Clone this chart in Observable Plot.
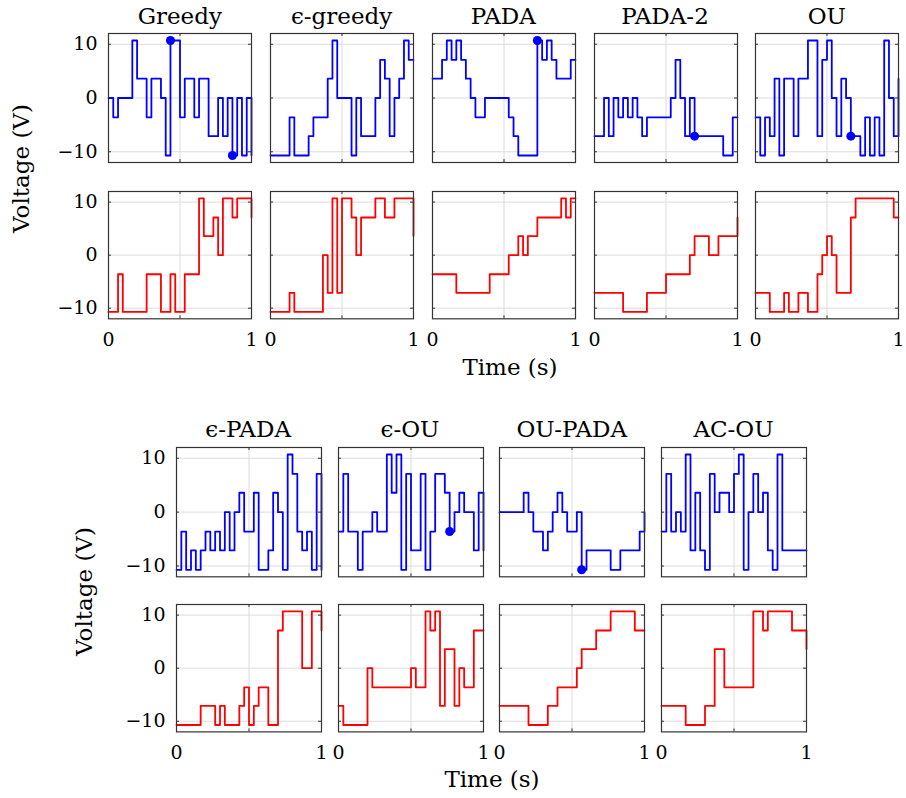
<!DOCTYPE html>
<html><head><meta charset="utf-8">
<script src="https://cdn.jsdelivr.net/npm/d3@7"></script>
<script src="https://cdn.jsdelivr.net/npm/@observablehq/plot@0.6"></script>
<style>
body{margin:0;background:#fff;}
#fig{position:relative;width:906px;height:798px;overflow:hidden;background:#fff;}
</style></head><body><div id="fig"></div>
<script>
// sample times (30 steps of 1/30 s; final point closes the stairs)
const time = [0,0.0333,0.0667,0.1,0.1333,0.1667,0.2,0.2333,0.2667,0.3,0.3333,0.3667,0.4,0.4333,0.4667,0.5,0.5333,0.5667,0.6,0.6333,0.6667,0.7,0.7333,0.7667,0.8,0.8333,0.8667,0.9,0.9333,0.9667,1];

const titles = ["Greedy","\u03F5-greedy","PADA","PADA-2","OU","\u03F5-PADA","\u03F5-OU","OU-PADA","AC-OU"];
const yTicks = [-10, 0, 10];
const xTicks = [0, 1];
const xGrid = [0.5];

const greedyBlue = [0,-3.6,0,0,0,10.7,3.6,3.6,-3.6,3.6,3.6,0,-10.7,10.7,10.7,-3.6,3.6,3.6,-3.6,3.6,3.6,-7.1,-7.1,0,-7.1,0,-10.7,0,-10.7,0,-10.7];
const greedyRed = [-10.7,-10.7,-3.6,-10.7,-10.7,-10.7,-10.7,-10.7,-3.6,-3.6,-3.6,-10.7,-10.7,-3.6,-10.7,-10.7,-3.6,-3.6,-3.6,10.7,3.6,3.6,7.1,0,10.7,10.7,7.1,10.7,10.7,10.7,7.1];
const greedyDotT = [0.4333, 0.8667];
const greedyDotV = [10.7, -10.7];

const epsGreedyBlue = [-10.7,-10.7,-10.7,-10.7,-3.6,-10.7,-10.7,-10.7,-7.1,-3.6,-3.6,-3.6,3.6,10.7,0,0,0,-10.7,0,-7.1,-7.1,-7.1,0,7.1,3.6,-7.1,0,3.6,10.7,7.1,7.1];
const epsGreedyRed = [-10.7,-10.7,-10.7,-10.7,-7.1,-10.7,-10.7,-10.7,-10.7,-10.7,-10.7,0,-7.1,10.7,-7.1,10.7,10.7,7.1,0,7.1,7.1,7.1,10.7,10.7,7.1,7.1,10.7,10.7,10.7,10.7,3.6];
const epsGreedyDotT = [];
const epsGreedyDotV = [];

const padaBlue = [3.6,3.6,7.1,10.7,7.1,10.7,7.1,3.6,0,-3.6,-3.6,0,0,0,0,0,-3.6,-7.1,-10.7,-10.7,-10.7,-10.7,10.7,7.1,10.7,7.1,3.6,3.6,3.6,7.1,7.1];
const padaRed = [-3.6,-3.6,-3.6,-3.6,-3.6,-7.1,-7.1,-7.1,-7.1,-7.1,-7.1,-7.1,-3.6,-3.6,-3.6,-3.6,0,0,3.6,0,3.6,3.6,7.1,7.1,7.1,7.1,7.1,10.7,7.1,10.7,10.7];
const padaDotT = [0.7333];
const padaDotV = [10.7];

const pada2Blue = [-7.1,-7.1,0,-7.1,0,-3.6,0,-3.6,0,-3.6,-7.1,-3.6,-3.6,-3.6,-3.6,-3.6,0,7.1,0,-7.1,0,-7.1,-7.1,-7.1,-7.1,-7.1,-7.1,-10.7,-10.7,-3.6,-3.6];
const pada2Red = [-7.1,-7.1,-7.1,-7.1,-7.1,-7.1,-10.7,-10.7,-10.7,-10.7,-10.7,-7.1,-7.1,-7.1,-7.1,-3.6,-3.6,-3.6,-3.6,-3.6,0,3.6,3.6,3.6,0,0,3.6,3.6,3.6,3.6,7.1];
const pada2DotT = [0.7];
const pada2DotV = [-7.1];

const ouBlue = [-3.6,-10.7,-3.6,-7.1,3.6,-10.7,3.6,3.6,-7.1,3.6,3.6,10.7,10.7,-7.1,7.1,10.7,0,-7.1,3.6,0,-7.1,-7.1,-10.7,-3.6,-10.7,-3.6,-10.7,10.7,0,-7.1,3.6];
const ouRed = [-7.1,-7.1,-7.1,-10.7,-10.7,-10.7,-7.1,-10.7,-10.7,-7.1,-7.1,-10.7,-10.7,-3.6,0,3.6,0,-7.1,-7.1,-7.1,7.1,10.7,10.7,10.7,10.7,10.7,10.7,10.7,10.7,7.1,7.1];
const ouDotT = [0.6667];
const ouDotV = [-7.1];

const epsPadaBlue = [-10.7,-3.6,-10.7,-7.1,-10.7,-7.1,-3.6,-7.1,-3.6,-7.1,0,-7.1,0,3.6,-3.6,-3.6,3.6,-10.7,-10.7,-7.1,3.6,0,-10.7,10.7,7.1,-3.6,-7.1,-3.6,-10.7,7.1,-10.7];
const epsPadaRed = [-10.7,-10.7,-10.7,-10.7,-10.7,-7.1,-7.1,-7.1,-10.7,-7.1,-10.7,-10.7,-10.7,-7.1,-3.6,-10.7,-7.1,-3.6,-3.6,-10.7,-10.7,7.1,10.7,10.7,10.7,10.7,0,0,10.7,10.7,7.1];
const epsPadaDotT = [];
const epsPadaDotV = [];

const epsOuBlue = [-3.6,7.1,-3.6,-3.6,-10.7,-3.6,-3.6,0,-3.6,-3.6,10.7,3.6,10.7,-10.7,7.1,-7.1,-7.1,7.1,-10.7,-3.6,7.1,7.1,3.6,-3.6,0,3.6,0,0,-7.1,3.6,-7.1];
const epsOuRed = [-7.1,-10.7,-10.7,-10.7,-10.7,-10.7,0,-3.6,-3.6,-3.6,-3.6,-3.6,-3.6,-3.6,-3.6,0,-3.6,-3.6,10.7,7.1,10.7,-7.1,3.6,3.6,-7.1,0,-3.6,-3.6,7.1,7.1,7.1];
const epsOuDotT = [0.7667];
const epsOuDotV = [-3.6];

const ouPadaBlue = [0,0,0,0,0,3.6,0,-3.6,-3.6,-7.1,-3.6,0,3.6,0,-3.6,-3.6,0,-10.7,-7.1,-7.1,-7.1,-7.1,-7.1,-10.7,-10.7,-7.1,-7.1,-7.1,-7.1,-3.6,0];
const ouPadaRed = [-7.1,-7.1,-7.1,-7.1,-7.1,-7.1,-10.7,-10.7,-10.7,-10.7,-7.1,-7.1,-3.6,-3.6,-3.6,-3.6,0,3.6,3.6,3.6,7.1,7.1,7.1,10.7,10.7,10.7,10.7,10.7,7.1,7.1,7.1];
const ouPadaDotT = [0.5667];
const ouPadaDotV = [-10.7];

const acOuBlue = [-3.6,7.1,-3.6,0,-3.6,10.7,-7.1,3.6,-7.1,-10.7,7.1,0,3.6,3.6,0,7.1,10.7,-10.7,0,7.1,0,3.6,-7.1,-10.7,10.7,-7.1,-7.1,-7.1,-7.1,-7.1,-7.1];
const acOuRed = [-7.1,-7.1,-7.1,-7.1,-7.1,-10.7,-10.7,-10.7,-10.7,-7.1,-7.1,3.6,3.6,-3.6,-3.6,-3.6,-3.6,-3.6,-3.6,10.7,10.7,7.1,10.7,10.7,10.7,10.7,10.7,7.1,7.1,7.1,3.6];
const acOuDotT = [];
const acOuDotV = [];

const blueSeries = [greedyBlue, epsGreedyBlue, padaBlue, pada2Blue, ouBlue, epsPadaBlue, epsOuBlue, ouPadaBlue, acOuBlue];
const redSeries = [greedyRed, epsGreedyRed, padaRed, pada2Red, ouRed, epsPadaRed, epsOuRed, ouPadaRed, acOuRed];
const dotTs = [greedyDotT, epsGreedyDotT, padaDotT, pada2DotT, ouDotT, epsPadaDotT, epsOuDotT, ouPadaDotT, acOuDotT];
const dotVs = [greedyDotV, epsGreedyDotV, padaDotV, pada2DotV, ouDotV, epsPadaDotV, epsOuDotV, ouPadaDotV, acOuDotV];

const FONT = "'DejaVu Serif', serif";
const AX = "#333";
const GRID = "#dcdcdc";

function subplot(values, color, dT, dV, w, h, showY, showX) {
  const data = time.map((t, i) => ({t, v: values[i]}));
  const dots = dT.map((t, i) => ({t, v: dV[i]}));
  const marks = [
    Plot.gridX(xGrid, {stroke: GRID, strokeOpacity: 1}),
    Plot.gridY(yTicks, {stroke: GRID, strokeOpacity: 1}),
    Plot.ruleX(xGrid, {stroke: AX, insetBottom: h - 3}),
    Plot.ruleX(xGrid, {stroke: AX, insetTop: h - 3}),
    Plot.ruleY(yTicks, {stroke: AX, insetRight: w - 3}),
    Plot.ruleY(yTicks, {stroke: AX, insetLeft: w - 3}),
    Plot.line(data, {x: "t", y: "v", curve: "step-after", stroke: color, strokeWidth: 1.8}),
    Plot.dot(dots, {x: "t", y: "v", r: 4.5, fill: color}),
    Plot.frame({stroke: AX, strokeWidth: 1.2})
  ];
  if (showY) marks.push(Plot.axisY(yTicks, {tickSize: 0, tickPadding: 11, fontSize: 19, label: null, tickFormat: d => d === 0 ? "0" : (d < 0 ? "\u2212" + (-d) : String(d))}));
  if (showX) marks.push(Plot.axisX(xTicks, {tickSize: 0, tickPadding: 14, fontSize: 19, label: null, tickFormat: d => String(d)}));
  return Plot.plot({
    width: w, height: h, margin: 0,
    style: {overflow: "visible", fontFamily: FONT, fontSize: "19px", color: "#000", background: "transparent"},
    x: {domain: [0, 1], axis: showX ? undefined : null},
    y: {domain: [-12, 12], axis: showY ? undefined : null},
    marks
  });
}

const fig = document.getElementById("fig");
function place(el, left, top) {
  el.style.position = "absolute";
  el.style.left = left + "px";
  el.style.top = top + "px";
  el.style.maxWidth = "none";
  fig.appendChild(el);
}

// layout: row 0 has 5 panels, row 1 has 4
const rows = [
  {idx: [0,1,2,3,4], lefts: [108.3, 270.05, 431.8, 593.55, 755.3], w: 143,
   blueTop: 33.3, blueH: 129, redTop: 191, redH: 127.3, titleY: 23.5},
  {idx: [5,6,7,8], lefts: [175.7, 337.5, 499.3, 661], w: 145,
   blueTop: 446.7, blueH: 129.3, redTop: 604.3, redH: 127.4, titleY: 437}
];

const overlayText = [];
rows.forEach(r => {
  r.idx.forEach((k, j) => {
    const left = r.lefts[j];
    place(subplot(blueSeries[k], "#0000ff", dotTs[k], dotVs[k], r.w, r.blueH, j === 0, false), left, r.blueTop);
    place(subplot(redSeries[k], "#ff0000", [], [], r.w, r.redH, j === 0, true), left, r.redTop);
    overlayText.push({text: titles[k], x: left + r.w / 2, y: r.titleY, rot: 0});
  });
});
overlayText.push({text: "Time (s)", x: 510, y: 375, rot: 0});
overlayText.push({text: "Time (s)", x: 492, y: 787, rot: 0});
overlayText.push({text: "Voltage (V)", x: 29, y: 168.5, rot: -90});
overlayText.push({text: "Voltage (V)", x: 92, y: 591.5, rot: -90});

const svg = d3.select(fig).append("svg")
  .attr("width", 906).attr("height", 798)
  .style("position", "absolute").style("left", "0px").style("top", "0px")
  .style("pointer-events", "none").style("font-family", FONT);
svg.selectAll("text").data(overlayText).join("text")
  .attr("transform", d => `translate(${d.x},${d.y}) rotate(${d.rot})`)
  .attr("text-anchor", "middle")
  .attr("font-size", 23)
  .attr("fill", "#000")
  .text(d => d.text);
</script>
</body></html>
